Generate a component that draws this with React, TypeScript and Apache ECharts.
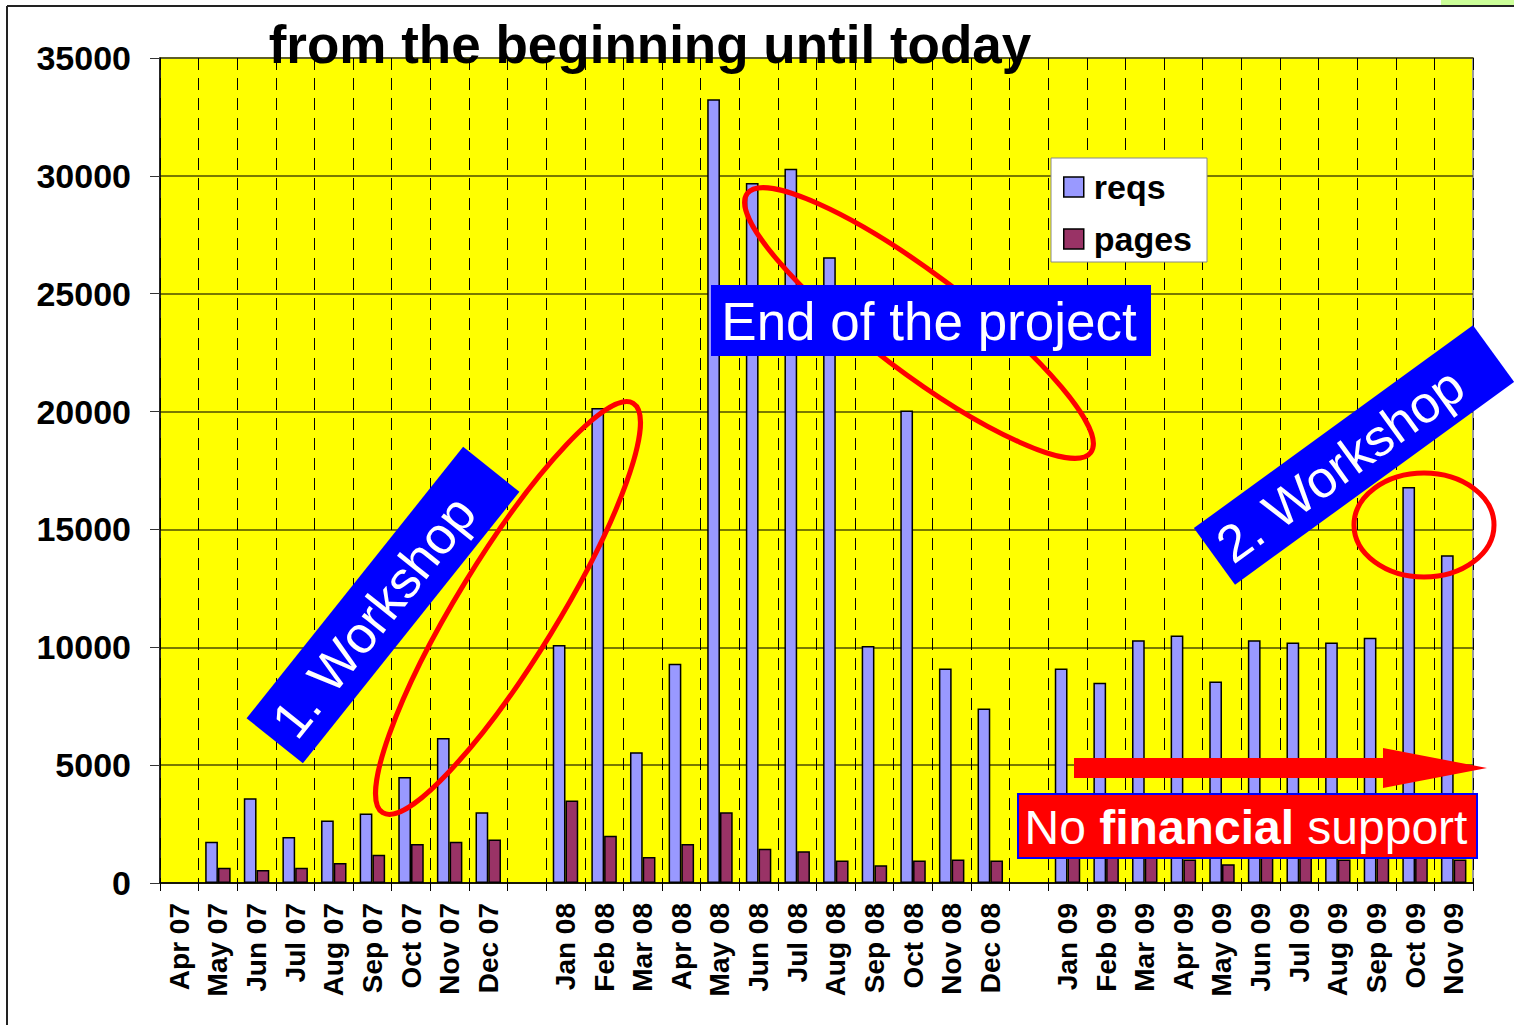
import React, { useEffect, useRef } from "react";
import * as echarts from "echarts";

const categories = [
  "Apr 07", "May 07", "Jun 07", "Jul 07", "Aug 07", "Sep 07", "Oct 07", "Nov 07", "Dec 07", " ",
  "Jan 08", "Feb 08", "Mar 08", "Apr 08", "May 08", "Jun 08", "Jul 08", "Aug 08", "Sep 08", "Oct 08", "Nov 08", "Dec 08", "  ",
  "Jan 09", "Feb 09", "Mar 09", "Apr 09", "May 09", "Jun 09", "Jul 09", "Aug 09", "Sep 09", "Oct 09", "Nov 09",
];

const reqs = [
  null, 1750, 3600, 1950, 2650, 2950, 4500, 6150, 3000, null,
  10100, 20150, 5550, 9300, 33250, 29700, 30300, 26550, 10050, 20050, 9100, 7400, null,
  9100, 8500, 10300, 10500, 8550, 10300, 10200, 10200, 10400, 16800, 13900,
];

const pages = [
  null, 650, 550, 650, 850, 1200, 1650, 1750, 1850, null,
  3500, 2000, 1100, 1650, 3000, 1450, 1350, 950, 750, 950, 1000, 950, null,
  1300, 1250, 1200, 1000, 800, 1200, 1200, 1000, 1150, 1200, 1000,
];

const seriesNames = ["reqs", "pages"];
const titleText = "from the beginning until today";

const FONT = '"Liberation Sans", Arial, Helvetica, sans-serif';
const deg = (d: number) => (d * Math.PI) / 180;

export default function App() {
  const ref = useRef<HTMLDivElement>(null);

  useEffect(() => {
    if (!ref.current) return;
    const chart = echarts.init(ref.current, undefined, { renderer: "svg" });
    const option: any = {
      animation: false,
      backgroundColor: "#ffffff",
      textStyle: { fontFamily: FONT },
      grid: {
        left: 160,
        right: 41,
        top: 58,
        bottom: 142,
        show: true,
        backgroundColor: "#FFFF00",
        borderColor: "#999999",
        borderWidth: 2,
      },
      legend: {
        orient: "vertical",
        left: 1051,
        top: 158,
        padding: [12, 15, 6, 12],
        itemGap: 18,
        itemWidth: 20,
        itemHeight: 20,
        backgroundColor: "#ffffff",
        borderColor: "#888888",
        borderWidth: 1,
        icon: "rect",
        itemStyle: { borderColor: "#000", borderWidth: 1.5 },
        textStyle: {
          fontSize: 34,
          fontWeight: "bold",
          color: "#000",
          fontFamily: FONT,
          lineHeight: 34,
          padding: [0, 0, 0, 5],
        },
        data: seriesNames,
      },
      xAxis: {
        type: "category",
        data: categories,
        boundaryGap: true,
        axisLine: { show: true, lineStyle: { color: "#000", width: 1.5 } },
        axisTick: { show: true, interval: 0, length: 8, lineStyle: { color: "#000" } },
        axisLabel: {
          interval: 0,
          rotate: 90,
          margin: 20,
          fontSize: 28,
          fontWeight: "bold",
          color: "#000",
          fontFamily: FONT,
        },
        splitLine: {
          show: true,
          interval: 0,
          lineStyle: { type: [12, 8], color: "#000", width: 1 },
        },
      },
      yAxis: {
        type: "value",
        min: 0,
        max: 35000,
        interval: 5000,
        axisLine: { show: true, lineStyle: { color: "#000", width: 1.5 } },
        axisTick: { show: true, length: 10, lineStyle: { color: "#333" } },
        axisLabel: {
          margin: 29,
          fontSize: 34,
          fontWeight: "bold",
          color: "#000",
          fontFamily: FONT,
          formatter: (v: number) => String(v),
        },
        splitLine: { show: true, lineStyle: { color: "#4d4d00", width: 1.5 } },
      },
      series: [
        {
          type: "bar",
          name: seriesNames[0],
          data: reqs,
          barGap: "0%",
          barCategoryGap: "34%",
          itemStyle: { color: "#9999FF", borderColor: "#000", borderWidth: 1.5 },
        },
        {
          type: "bar",
          name: seriesNames[1],
          data: pages,
          barGap: "0%",
          barCategoryGap: "34%",
          itemStyle: { color: "#993366", borderColor: "#000", borderWidth: 1.5 },
        },
      ],
      graphic: [
        // page frame
        { type: "line", z: 100, shape: { x1: 7, y1: 6, x2: 1514, y2: 6 }, style: { stroke: "#222", lineWidth: 2 } },
        { type: "line", z: 100, shape: { x1: 7, y1: 6, x2: 7, y2: 1025 }, style: { stroke: "#222", lineWidth: 2 } },
        { type: "rect", z: 101, shape: { x: 1441, y: 0, width: 73, height: 5 }, style: { fill: "#CCFF99" } },
        // title
        {
          type: "text",
          z: 120,
          x: 650,
          y: 44,
          style: {
            text: titleText,
            font: `bold 53px ${FONT}`,
            fill: "#000",
            align: "center",
            verticalAlign: "middle",
          },
        },
        // ellipse around end of project (below the box)
        {
          type: "ellipse",
          z: 40,
          x: 919,
          y: 323,
          rotation: deg(-37),
          shape: { cx: 0, cy: 0, rx: 215, ry: 49 },
          style: { fill: "none", stroke: "#FF0000", lineWidth: 5 },
        },
        // End of the project box
        {
          type: "rect",
          z: 45,
          shape: { x: 711, y: 285, width: 440, height: 71 },
          style: { fill: "#0000FF" },
        },
        {
          type: "text",
          z: 46,
          x: 929,
          y: 321,
          style: {
            text: "End of the project",
            font: `53px ${FONT}`,
            fill: "#fff",
            align: "center",
            verticalAlign: "middle",
          },
        },
        // 1. Workshop
        {
          type: "group",
          z: 50,
          x: 383,
          y: 605,
          rotation: deg(51.4),
          children: [
            {
              type: "rect",
              z: 50,
              shape: { x: -173.5, y: -36, width: 347, height: 72 },
              style: { fill: "#0000FF" },
            },
            {
              type: "text",
              z: 51,
              x: -15,
              y: 0,
              style: {
                text: "1. Workshop",
                font: `52px ${FONT}`,
                fill: "#fff",
                align: "center",
                verticalAlign: "middle",
              },
            },
          ],
        },
        // ellipse around Jan/Feb 08 (above the workshop box)
        {
          type: "ellipse",
          z: 60,
          x: 508,
          y: 608,
          rotation: deg(58.5),
          shape: { cx: 0, cy: 0, rx: 240, ry: 50 },
          style: { fill: "none", stroke: "#FF0000", lineWidth: 5 },
        },
        // 2. Workshop
        {
          type: "group",
          z: 50,
          x: 1354,
          y: 455,
          rotation: deg(36),
          children: [
            {
              type: "rect",
              z: 50,
              shape: { x: -172.5, y: -35, width: 345, height: 70 },
              style: { fill: "#0000FF" },
            },
            {
              type: "text",
              z: 51,
              x: -17,
              y: 0,
              style: {
                text: "2. Workshop",
                font: `52px ${FONT}`,
                fill: "#fff",
                align: "center",
                verticalAlign: "middle",
              },
            },
          ],
        },
        // ellipse around Oct/Nov 09
        {
          type: "ellipse",
          z: 60,
          x: 1424,
          y: 525,
          shape: { cx: 0, cy: 0, rx: 70, ry: 52 },
          style: { fill: "none", stroke: "#FF0000", lineWidth: 5 },
        },
        // arrow
        {
          type: "polygon",
          z: 60,
          shape: {
            points: [
              [1074, 758],
              [1383, 758],
              [1383, 748],
              [1487, 768],
              [1383, 788],
              [1383, 778],
              [1074, 778],
            ],
          },
          style: { fill: "#FF0000" },
        },
        // No financial support box
        {
          type: "rect",
          z: 60,
          shape: { x: 1018, y: 794, width: 459, height: 64 },
          style: { fill: "#FF0000", stroke: "#0000FF", lineWidth: 2 },
        },
        {
          type: "text",
          z: 61,
          x: 1246,
          y: 827,
          style: {
            text: "{r|No }{b|financial}{r| support}",
            align: "center",
            verticalAlign: "middle",
            rich: {
              r: { fontSize: 48, fontFamily: FONT, fill: "#fff", color: "#fff" },
              b: { fontSize: 48, fontFamily: FONT, fontWeight: "bold", fill: "#fff", color: "#fff" },
            },
          },
        },
      ],
    };
    chart.setOption(option);
    return () => chart.dispose();
  }, []);

  return (
    <div
      ref={ref}
      style={{ position: "absolute", left: 0, top: 0, width: 1514, height: 1025 }}
    />
  );
}
